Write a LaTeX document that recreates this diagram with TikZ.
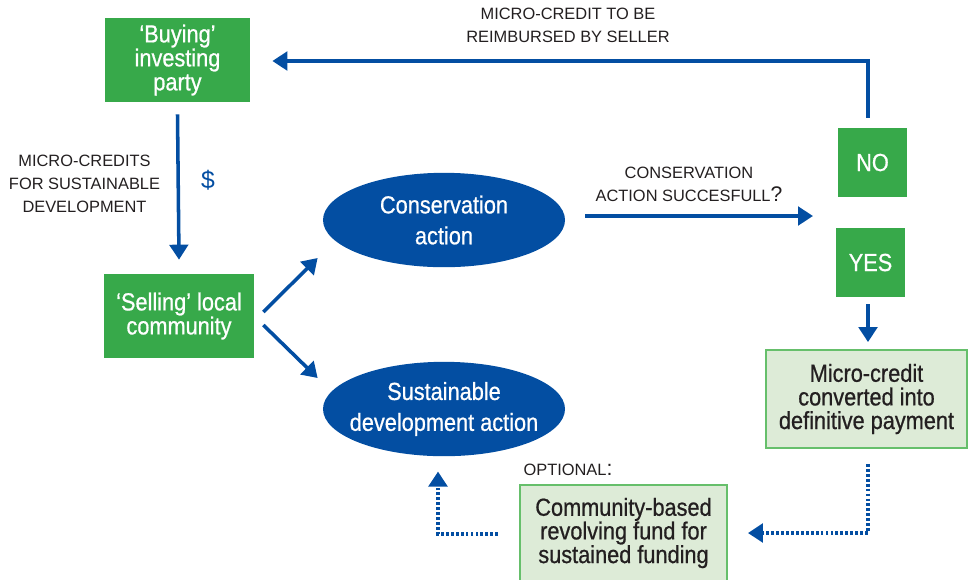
\documentclass[tikz,border=0pt]{standalone}
\usepackage{fontspec}
\setmainfont{Liberation Sans}
\newfontfamily\narrowfont[FakeStretch=0.88,FakeBold=0.7]{Liberation Sans}
\usetikzlibrary{arrows.meta,shapes.geometric}
\definecolor{boxgreen}{HTML}{37A94A}
\definecolor{palegreen}{HTML}{DDEBD7}
\definecolor{paleedge}{HTML}{66BF6B}
\definecolor{flowblue}{HTML}{034EA2}
\definecolor{labelgray}{HTML}{231F20}

\begin{document}
\begin{tikzpicture}[x=0.5669pt,y=-0.5669pt,
  solidbox/.style={fill=boxgreen, draw=none, text=white, inner sep=0pt, align=center,
    font=\narrowfont\fontsize{14}{13.6}\selectfont},
  softbox/.style={fill=palegreen, draw=paleedge, line width=1pt, text=labelgray, inner sep=0pt,
    align=center, font=\narrowfont\fontsize{14}{13.4}\selectfont},
  action/.style={ellipse, fill=flowblue, draw=none, inner sep=0pt,
    minimum width=137.2pt, minimum height=53.5pt},
  actiontext/.style={text=white, inner sep=0pt, align=center,
    font=\narrowfont\fontsize{14}{17.5}\selectfont},
  caption/.style={text=labelgray, align=center, font=\fontsize{9.3}{13}\selectfont},
  tip/.style={-{Triangle[width=10.5pt,length=8.5pt]}},
  arr/.style={draw=flowblue, line width=2pt, tip},
  dotarr/.style={draw=flowblue, line width=2.2pt, dash pattern=on 1.6pt off 1.2pt, tip}
]
\useasboundingbox (0,0) rectangle (968,579);

% boxes and actions
\node[solidbox, minimum width=82.2pt, minimum height=47.6pt] (buyer) at (177.5,60) {‘Buying’\\investing\\party};
\node[solidbox, minimum width=85pt, minimum height=47.6pt] (seller) at (179,316) {‘Selling’ local\\community};
\node[action] (cons) at (444,220) {};
\node[actiontext] (consText) at (cons.center) {Conservation\\action};
\node[action] (sust) at (444,409) {};
\node[actiontext] (sustText) at (sust.center) {Sustainable\\development action};
\node[solidbox, minimum size=39.1pt] (no) at (872.5,162.5) {NO};
\node[solidbox, minimum size=39.1pt] (yes) at (870.5,262.5) {YES};
\node[softbox, minimum width=114pt, minimum height=55.6pt] (paid) at (866.5,399) {Micro-credit\\converted into\\definitive payment};
\node[softbox, minimum width=117.4pt, minimum height=54.4pt] (fund) at (623.5,533) {Community-based\\revolving fund for\\sustained funding};

% captions
\node[caption] (lblcredits) at (84.5,184) {MICRO-CREDITS\\FOR SUSTAINABLE\\DEVELOPMENT};
\node[text=flowblue, font=\fontsize{14}{14}\selectfont] (dollar) at (208,180) {\$};
\node[caption] (lblrepay) at (568,25) {MICRO-CREDIT TO BE\\REIMBURSED BY SELLER};
\node[caption] (lblask) at (689,184) {CONSERVATION\\ACTION SUCCESFULL{\large ?}};
\node[caption, anchor=base] (lblopt) at (568,475) {OPTIONAL{\large :}};

\coordinate (ask) at (813,216);

% connectors
\draw[arr] ([shift={(0,12)}]buyer.south) -- ([shift={(0,-14)}]seller.north);
\draw[arr] ([shift={(9,-4)}]seller.east) -- ([shift={(-5,38)}]cons.west);
\draw[arr] ([shift={(9,9)}]seller.east) -- ([shift={(-5,-31)}]sust.west);
\draw[arr] ([shift={(20,-4)}]cons.east) -- (ask);
\draw[arr] ([shift={(-4.5,-10)}]no.north) |- ([shift={(22,1)}]buyer.east);
\draw[arr] ([shift={(-2.5,7)}]yes.south) -- ([shift={(1.5,-7)}]paid.north);
\draw[dotarr] ([shift={(1.5,15)}]paid.south) |- ([shift={(20,0)}]fund.east);
\draw[dotarr] ([shift={(-21,1)}]fund.west) -| ([shift={(-6,15)}]sust.south);
\end{tikzpicture}
\end{document}
